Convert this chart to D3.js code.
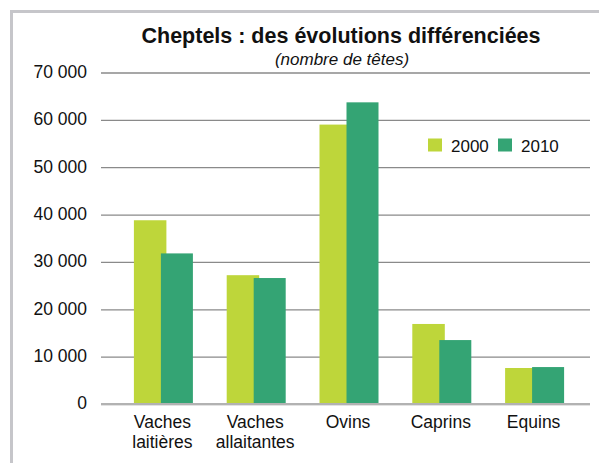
<!DOCTYPE html>
<html><head><meta charset="utf-8">
<script src="https://cdn.jsdelivr.net/npm/d3@7"></script>
<style>
body{margin:0;background:#fff;}
svg{display:block;font-family:"Liberation Sans",Arial,sans-serif;}
</style></head>
<body>
<svg id="c" width="599" height="463"></svg>
<script>
const categories = ["Vaches\nlaitières", "Vaches\nallaitantes", "Ovins", "Caprins", "Equins"];
const seriesNames = ["2000", "2010"];
const values2000 = [38800, 27200, 59000, 16900, 7600];
const values2010 = [31800, 26600, 63700, 13500, 7800];
const yTicks = [0, 10000, 20000, 30000, 40000, 50000, 60000, 70000];
const colors = ["#bed63a", "#34a474"];

const svg = d3.select("#c");
// frame
svg.append("line").attr("x1",11.5).attr("x2",11.5).attr("y1",10).attr("y2",463).attr("stroke","#c6c6ca").attr("stroke-width",3);
svg.append("line").attr("x1",10).attr("x2",599).attr("y1",11.5).attr("y2",11.5).attr("stroke","#c6c6ca").attr("stroke-width",3);

const y = d3.scaleLinear().domain([0,70000]).range([404,72.5]);
const x = d3.scaleBand().domain(categories).range([116,580]).padding(0);
const plotL = 101, plotR = 590;

const fmt = v => d3.format(",")(v).replace(/,/g," ");
const gy = svg.append("g").attr("transform",`translate(${plotL},0)`)
  .call(d3.axisLeft(y).tickValues(yTicks).tickSize(-(plotR-plotL)).tickPadding(14).tickFormat(fmt));
gy.select(".domain").remove();
gy.selectAll(".tick line").attr("stroke","#8a8a8a").attr("stroke-width",1.3);
gy.selectAll(".tick text").attr("font-size",17.5).attr("fill","#111").attr("font-family","Liberation Sans, Arial, sans-serif").attr("dy","0.28em");

const c = d => x(d) + x.bandwidth()/2;
const data = categories.map((cat,i)=>({cat, v:[values2000[i], values2010[i]]}));
const g = svg.append("g");
g.selectAll(".b0").data(data).join("rect").attr("class","b0")
  .attr("x",d=>c(d.cat)-28.5).attr("width",32.5)
  .attr("y",d=>y(d.v[0])).attr("height",d=>y(0)-y(d.v[0])).attr("fill",colors[0]);
g.selectAll(".b1").data(data).join("rect").attr("class","b1")
  .attr("x",d=>c(d.cat)-1.5).attr("width",32)
  .attr("y",d=>y(d.v[1])).attr("height",d=>y(0)-y(d.v[1])).attr("fill",colors[1]);

// baseline
svg.append("line").attr("x1",plotL).attr("x2",plotR).attr("y1",y(0)).attr("y2",y(0)).attr("stroke","#b2b2b2").attr("stroke-width",2);

// x axis labels
const gx = svg.append("g").attr("transform",`translate(0,${y(0)})`)
  .call(d3.axisBottom(x).tickSize(0).tickFormat(""));
gx.select(".domain").remove();
gx.selectAll(".tick").each(function(d){
  const t = d3.select(this).append("text").attr("fill","#111").attr("font-size",17.5)
    .attr("text-anchor","middle").attr("x",0);
  d.split("\n").forEach((ln,i)=>{
    t.append("tspan").attr("x",0).attr("y",23.5+i*20.5).text(ln);
  });
});

// title
svg.append("text").attr("x",341).attr("y",42.5).attr("text-anchor","middle")
  .attr("font-weight","bold").attr("font-size",21.5).attr("fill","#111").text("Cheptels : des évolutions différenciées");
svg.append("text").attr("x",342).attr("y",64.5).attr("text-anchor","middle")
  .attr("font-style","italic").attr("font-size",17).attr("fill","#111").text("(nombre de têtes)");

// legend
const legX = [428, 498];
const lg = svg.append("g");
seriesNames.forEach((s,i)=>{
  lg.append("rect").attr("x",legX[i]).attr("y",138.5).attr("width",14).attr("height",13).attr("fill",colors[i]);
  lg.append("text").attr("x",legX[i]+23).attr("y",151.5).attr("font-size",17).attr("fill","#111").text(s);
});
</script>
</body></html>
